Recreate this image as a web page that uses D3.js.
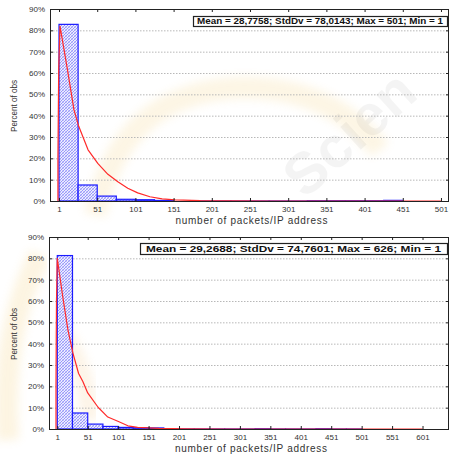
<!DOCTYPE html>
<html>
<head>
<meta charset="utf-8">
<script src="https://cdn.jsdelivr.net/npm/d3@7"></script>
<style>
  body { margin: 0; background: #fff; }
  svg { display: block; font-family: "Liberation Sans", Arial, sans-serif; }
</style>
</head>
<body>
<svg id="chart" width="449" height="456"></svg>
<script>
// ---- data ----------------------------------------------------------------
const pctTicks = [0, 10, 20, 30, 40, 50, 60, 70, 80, 90];
const topXTicks = [1, 51, 101, 151, 201, 251, 301, 351, 401, 451, 501];
const botXTicks = [1, 51, 101, 151, 201, 251, 301, 351, 401, 451, 501, 551, 601];
const binWidth = 25;

// histogram 1 (bin lower edge, percent of observations)
const topBinStart = [1, 26, 51, 76, 101, 126, 176, 201, 226, 251, 276, 301, 326, 351, 376, 401, 426];
const topBinPct   = [82.8, 7.5, 2.3, 0.8, 0.6, 0.25, 0.03, 0.03, 0.03, 0.03, 0.03, 0.03, 0.15, 0.15, 0.15, 0.15, 0.3];

// histogram 2
const botBinStart = [1, 26, 51, 76, 101, 126, 151, 176, 201, 226, 251, 276, 301, 326, 351, 376, 401, 426, 451, 476];
const botBinPct   = [81.3, 7.5, 2.3, 1.2, 0.75, 0.6, 0.5, 0.03, 0.03, 0.03, 0.03, 0.03, 0.03, 0.15, 0.03, 0.03, 0.03, 0.15, 0.03, 0.03];

// fitted distribution curves (value, percent)
const topCurveX = [-0.4, -0.4, 0.6, 2.3, 11.5, 20.6, 26.8, 39, 52, 65, 78, 91, 104, 120, 136, 153, 186, 225, 280, 501];
const topCurveY = [0, 20, 62, 82, 62.8, 42.7, 35, 24, 17.5, 12.5, 9, 6, 3.8, 2, 1, 0.5, 0.15, 0.05, 0, 0];

const botCurveX = [-1.1, -1.1, -0.3, 1, 10, 18.5, 26.7, 36, 43, 51, 68, 84, 100.5, 117, 133, 168, 210, 280, 601];
const botCurveY = [0, 20, 60, 80, 62, 46.5, 35.6, 26, 22.3, 16.9, 10.2, 5.6, 3.6, 1.5, 0.8, 0.3, 0.08, 0, 0];

const topLegend = "Mean = 28,7758; StdDv = 78,0143; Max = 501; Min = 1";
const botLegend = "Mean = 29,2688; StdDv = 74,7601; Max = 626; Min = 1";
const xTitle = "number of packets/IP address";
const yTitle = "Percent of obs";

// ---- drawing -------------------------------------------------------------
const svg = d3.select("#chart");
const defs = svg.append("defs");

// cross-hatched bar fill
const pat = defs.append("pattern")
  .attr("id", "hatch").attr("width", 3).attr("height", 3)
  .attr("patternUnits", "userSpaceOnUse");
pat.append("rect").attr("width", 3).attr("height", 3).attr("fill", "#ececff");
pat.append("path").attr("d", "M0,3L3,0M-1,1L1,-1M2,4L4,2")
  .attr("stroke", "#5a5af5").attr("stroke-width", 0.55);
pat.append("path").attr("d", "M0,0L3,3M-1,2L1,4M2,-1L4,1")
  .attr("stroke", "#8a8af8").attr("stroke-width", 0.4);

const blur = defs.append("filter").attr("id", "soft")
  .attr("x", "-20%").attr("y", "-20%").attr("width", "140%").attr("height", "140%");
blur.append("feGaussianBlur").attr("stdDeviation", 5);

// faint publisher watermark behind the panels
const wm = svg.append("g").attr("pointer-events", "none");
wm.append("path")
  .attr("d", "M95,215 Q120,95 235,88 Q330,85 380,150")
  .attr("fill", "none").attr("stroke", "#f2c65e").attr("stroke-width", 22)
  .attr("opacity", 0.16).attr("filter", "url(#soft)");
wm.append("path")
  .attr("d", "M8,440 Q0,330 40,255")
  .attr("fill", "none").attr("stroke", "#f2c65e").attr("stroke-width", 22)
  .attr("opacity", 0.18).attr("filter", "url(#soft)");
wm.append("path")
  .attr("d", "M60,330 Q85,360 90,420")
  .attr("fill", "none").attr("stroke", "#f2b65e").attr("stroke-width", 18)
  .attr("opacity", 0.14).attr("filter", "url(#soft)");
wm.append("text")
  .attr("transform", "translate(305,200) rotate(-42)")
  .attr("font-size", 58).attr("font-weight", "bold")
  .attr("fill", "#000").attr("opacity", 0.04)
  .text("Scien");

function drawPanel(p) {
  const x = d3.scaleLinear().domain(p.xDomain).range([p.left, p.right]);
  const y = d3.scaleLinear().domain([0, 90]).range([p.bottom, p.top]);
  const g = svg.append("g");

  const clipId = "clip" + p.id;
  defs.append("clipPath").attr("id", clipId)
    .append("rect").attr("x", p.left).attr("y", p.top)
    .attr("width", p.right - p.left).attr("height", p.bottom - p.top);

  // horizontal dotted grid
  g.append("g").selectAll("line")
    .data(pctTicks.filter(d => d > 0 && d < 90))
    .join("line")
    .attr("x1", p.left).attr("x2", p.right)
    .attr("y1", d => y(d) + 0.5).attr("y2", d => y(d) + 0.5)
    .attr("stroke", "#b8b8b8").attr("stroke-width", 1)
    .attr("stroke-dasharray", "1.5,1.5");

  // histogram bars
  const bins = p.binStart.map((s, i) => ({ s, v: p.binPct[i] }));
  g.append("g").attr("clip-path", `url(#${clipId})`)
    .selectAll("rect").data(bins.filter(b => b.v > 0)).join("rect")
    .attr("x", b => x(b.s))
    .attr("width", b => x(b.s + binWidth) - x(b.s))
    .attr("y", b => y(b.v))
    .attr("height", b => Math.max(0.6, y(0) - y(b.v)))
    .attr("fill", "url(#hatch)")
    .attr("stroke", "#1a1aff").attr("stroke-width", 1.2);

  // fitted curve
  const pts = p.curveX.map((v, i) => [v, p.curveY[i]]);
  g.append("path").attr("clip-path", `url(#${clipId})`)
    .datum(pts)
    .attr("d", d3.line().x(d => x(d[0])).y(d => y(d[1])))
    .attr("fill", "none").attr("stroke", "#ff2a2a").attr("stroke-width", 1.2)
    .attr("stroke-linejoin", "round");

  // axes (ticks point into the plot)
  const axB = g.append("g").attr("transform", `translate(0,${p.bottom})`)
    .call(d3.axisBottom(x).tickValues(p.xTicks).tickSize(-3).tickPadding(5).tickFormat(d3.format("d")));
  const axT = g.append("g").attr("transform", `translate(0,${p.top})`)
    .call(d3.axisTop(x).tickValues(p.xTicks).tickSize(-3).tickFormat(""));
  const axL = g.append("g").attr("transform", `translate(${p.left},0)`)
    .call(d3.axisLeft(y).tickValues(pctTicks).tickSize(-3).tickPadding(5).tickFormat(d => d + "%"));
  const axR = g.append("g").attr("transform", `translate(${p.right},0)`)
    .call(d3.axisRight(y).tickValues(pctTicks).tickSize(-3).tickFormat(""));
  [axB, axT, axL, axR].forEach(a => {
    a.select(".domain").remove();
    a.selectAll(".tick line").attr("stroke", "#222");
    a.selectAll(".tick text").attr("fill", "#333").attr("font-size", 8);
  });

  // plot frame
  g.append("rect")
    .attr("x", p.left + 0.5).attr("y", p.top + 0.5)
    .attr("width", p.right - p.left - 1).attr("height", p.bottom - p.top)
    .attr("fill", "none").attr("stroke", "#222").attr("stroke-width", 1);

  // statistics box
  g.append("rect")
    .attr("x", p.legX + 0.5).attr("y", p.legY + 0.5)
    .attr("width", p.legW).attr("height", p.legH)
    .attr("fill", "#fff").attr("stroke", "#222").attr("stroke-width", 1.2);
  g.append("text")
    .attr("x", p.legX + p.legPad).attr("y", p.legY + p.legH - 2)
    .attr("font-size", p.legFont).attr("font-weight", "bold").attr("fill", "#111")
    .attr("textLength", p.legW - 2 * p.legPad).attr("lengthAdjust", "spacingAndGlyphs")
    .text(p.legend);

  // axis titles
  g.append("text")
    .attr("x", (p.left + p.right) / 2 + 2).attr("y", p.bottom + 23)
    .attr("text-anchor", "middle").attr("font-size", 10).attr("fill", "#333")
    .attr("textLength", 152).attr("lengthAdjust", "spacing")
    .text(xTitle);
  g.append("text")
    .attr("transform", `translate(17,${(p.top + p.bottom) / 2 + 1}) rotate(-90)`)
    .attr("text-anchor", "middle").attr("font-size", 9.5).attr("fill", "#333")
    .attr("textLength", 52).attr("lengthAdjust", "spacingAndGlyphs")
    .text(yTitle);
}

drawPanel({
  id: "a", left: 50, right: 449, top: 9, bottom: 201,
  xDomain: [-10.8, 511.5], xTicks: topXTicks,
  binStart: topBinStart, binPct: topBinPct,
  curveX: topCurveX, curveY: topCurveY,
  legend: topLegend, legX: 193, legY: 16, legW: 254, legH: 10, legPad: 4, legFont: 8.5
});

drawPanel({
  id: "b", left: 49, right: 449, top: 237, bottom: 429,
  xDomain: [-12.6, 644.5], xTicks: botXTicks,
  binStart: botBinStart, binPct: botBinPct,
  curveX: botCurveX, curveY: botCurveY,
  legend: botLegend, legX: 140, legY: 243, legW: 307, legH: 11, legPad: 6, legFont: 9.5
});
</script>
</body>
</html>
